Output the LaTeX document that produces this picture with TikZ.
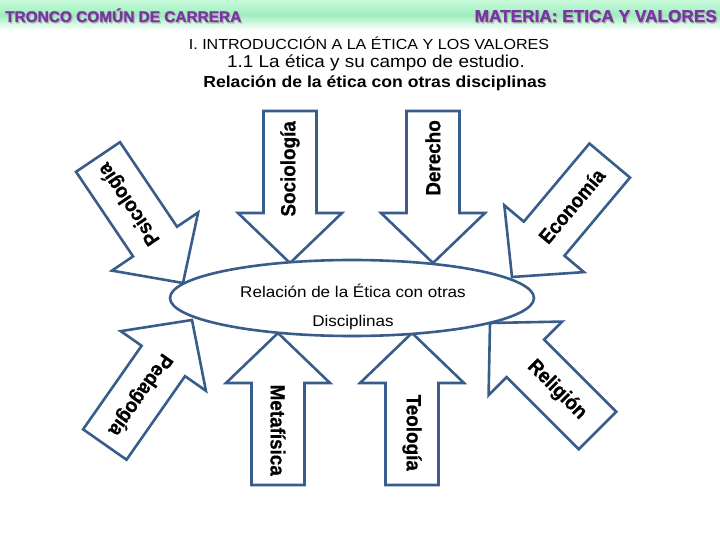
\documentclass[tikz,border=0pt]{standalone}
\usepackage{fontspec}
\setmainfont{Liberation Sans}
\newfontfamily\widefont[FakeStretch=1.1]{Liberation Sans}
\newfontfamily\headfont[FakeStretch=1.0, BoldFeatures={FakeBold=1.6}]{Liberation Sans}
\newfontfamily\lblfont[FakeStretch=0.92, BoldFeatures={FakeBold=0.6}]{Liberation Sans}
\usetikzlibrary{shapes.geometric}
\definecolor{arrblue}{RGB}{56,93,138}
\definecolor{headpurple}{RGB}{118,56,160}
\definecolor{mintA}{RGB}{200,250,218}
\definecolor{mintB}{RGB}{158,238,190}
\newcommand\blkarrow[5]{%
  \begin{scope}[shift={#2}, rotate=#3]
    \draw[arrline] (0,0) -- (-50,52) -- (-50,26.5) -- (-152,26.5) -- (-152,-26.5) -- (-50,-26.5) -- (-50,-52) -- cycle;
    \node[lbl, transform shape, rotate=180, anchor=east] (#1) at ({-152+#4},0) {#5};
  \end{scope}}
\begin{document}
\begin{tikzpicture}[x=1pt,y=-1pt,
  arrline/.style={draw=arrblue, line width=2.6pt, fill=white, line join=miter},
  lbl/.style={font=\lblfont\bfseries\fontsize{20.5}{24}\selectfont, inner sep=0pt},
  headtxt/.style={inner sep=0pt, text=headpurple},
  headshadow/.style={inner sep=0pt, text=black!30},
  titletxt/.style={inner sep=0pt, anchor=base},
  midtxt/.style={inner sep=0pt, anchor=base, font=\widefont\fontsize{15.5}{18}\selectfont}]
\useasboundingbox (0,0) rectangle (720,540);
\fill[white] (0,0) rectangle (720,540);
\shade[top color=mintA, bottom color=white, middle color=mintB] (0,0) rectangle (720,30);
% header
\node[headshadow, anchor=base west, font=\headfont\bfseries\fontsize{15.4}{18}\selectfont] (hls) at (6.2,23.2) {TRONCO COMÚN DE CARRERA};
\node[headtxt, anchor=base west, font=\headfont\bfseries\fontsize{15.4}{18}\selectfont] (hl) at (5,22) {TRONCO COMÚN DE CARRERA};
\node[headshadow, anchor=base east, font=\headfont\bfseries\fontsize{17.2}{18}\selectfont] (hrs) at (718.2,23.2) {MATERIA: ETICA Y VALORES};
\node[headtxt, anchor=base east, font=\headfont\bfseries\fontsize{17.2}{18}\selectfont] (hr) at (717,22) {MATERIA: ETICA Y VALORES};
% titles
\node[titletxt, font=\widefont\fontsize{14.6}{17}\selectfont] (t1) at (369,49.3) {I. INTRODUCCIÓN A LA ÉTICA Y LOS VALORES};
\node[titletxt, font=\widefont\fontsize{17.2}{20}\selectfont] (t2) at (376,68) {1.1 La ética y su campo de estudio.};
\node[titletxt, font=\widefont\bfseries\fontsize{16}{19}\selectfont] (t3) at (375,88) {Relación de la ética con otras disciplinas};
% arrows
\blkarrow{psi}{(183,283)}{-56}{9}{Psicología}
\blkarrow{soc}{(290,263)}{-90}{10}{Sociología}
\blkarrow{der}{(433,263)}{-90}{9}{Derecho}
\blkarrow{eco}{(512,277)}{-130}{14}{Economía}
\blkarrow{ped}{(192,320)}{55}{13}{Pedagogía}
\blkarrow{met}{(278,333)}{90}{9}{Metafísica}
\blkarrow{teo}{(412,333)}{90}{14}{Teología}
\blkarrow{rel}{(490,323)}{135}{20}{Religión}
% central ellipse
\node[ellipse, draw=arrblue, line width=2.6pt, fill=white, minimum width=364pt, minimum height=76pt, inner sep=0pt] (centre) at (352,298) {};
\node[midtxt] (c1) at (353,297) {Relación de la Ética con otras};
\node[midtxt] (c2) at (353,326) {Disciplinas};
\end{tikzpicture}
\end{document}
